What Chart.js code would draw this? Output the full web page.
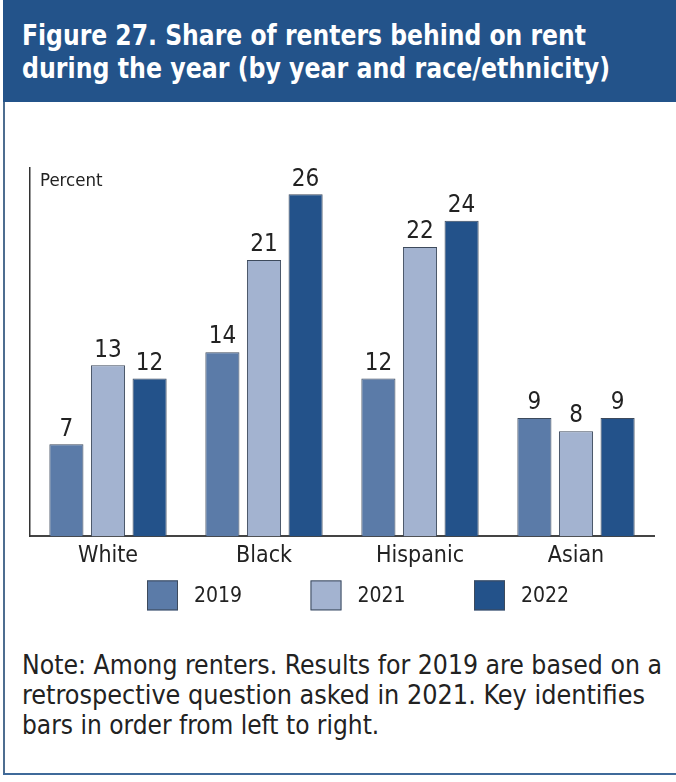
<!DOCTYPE html>
<html>
<head>
<meta charset="utf-8">
<script src="https://cdn.jsdelivr.net/npm/chart.js@4.4.1/dist/chart.umd.min.js"></script>
<style>
  html, body { margin: 0; padding: 0; background: #fff; }
  body { width: 676px; height: 782px; position: relative; overflow: hidden;
         font-family: "DejaVu Sans Condensed", "Liberation Sans Narrow", sans-serif; color: #222; }
  #header { position: absolute; left: 3px; top: 0; width: 673px; height: 102px; background: #23538a; }
  #title { position: absolute; left: 19px; top: 19px; margin: 0; color: #fff;
           font-size: 28px; font-weight: bold; line-height: 33px; white-space: nowrap; }
  #title span { display: block; transform-origin: 0 0; }
  #frameLeft { position: absolute; left: 3px; top: 102px; width: 2px; height: 673px; background: #4d6d90; }
  #frameBottom { position: absolute; left: 3px; top: 773px; width: 673px; height: 2px; background: #3f6a9a; }
  #wrap { position: absolute; left: 0; top: 110px; width: 676px; height: 515px; }
  #note { position: absolute; left: 22px; top: 650px; margin: 0; font-size: 26px; line-height: 30px;
          color: #222; white-space: nowrap; }
  #note span { display: block; transform-origin: 0 0; }
</style>
</head>
<body>
<div id="header"><h1 id="title"><span data-w="564">Figure 27. Share of renters behind on rent</span><span data-w="588">during the year (by year and race/ethnicity)</span></h1></div>
<div id="frameLeft"></div>
<div id="frameBottom"></div>
<div id="wrap"><canvas id="rentChart"></canvas></div>
<p id="note"><span data-w="640">Note: Among renters. Results for 2019 are based on a</span><span data-w="623">retrospective question asked in 2021. Key identifies</span><span>bars in order from left to right.</span></p>

<script>
const groups = ["White", "Black", "Hispanic", "Asian"];
const years = ["2019", "2021", "2022"];
const values2019 = [7, 14, 12, 9];
const values2021 = [13, 21, 22, 8];
const values2022 = [12, 26, 24, 9];
const colors = ["#5b7ba8", "#a3b3d0", "#23528a"];

const fontFamily = '"DejaVu Sans Condensed", "Liberation Sans Narrow", sans-serif';

// squeeze title / note lines to the width they have in the figure
document.querySelectorAll("[data-w]").forEach(el => {
    el.style.display = "inline-block";
    const real = el.getBoundingClientRect().width;
    el.style.transform = "scaleX(" + (+el.dataset.w / real) + ")";
    el.style.display = "block";
    el.style.width = real + "px";
});

// value labels above each bar
const barLabels = {
    id: "barLabels",
    afterDatasetsDraw(chart) {
        const ctx = chart.ctx;
        ctx.save();
        ctx.font = "24px " + fontFamily;
        ctx.fillStyle = "#222";
        ctx.textAlign = "center";
        ctx.textBaseline = "bottom";
        chart.data.datasets.forEach((ds, i) => {
            chart.getDatasetMeta(i).data.forEach((bar, j) => {
                ctx.fillText(ds.data[j], bar.x, bar.y - 3);
            });
        });
        ctx.restore();
    }
};

// "Percent" label and the key under the axis
const extras = {
    id: "extras",
    afterDraw(chart) {
        const ctx = chart.ctx;
        const area = chart.chartArea;
        ctx.save();
        ctx.font = "18.5px " + fontFamily;
        ctx.fillStyle = "#222";
        ctx.textBaseline = "top";
        ctx.fillText("Percent", area.left + 10, area.top + 4);

        ctx.font = "21px " + fontFamily;
        ctx.textBaseline = "middle";
        chart.data.datasets.forEach((ds, i) => {
            const x = 147 + i * 163.5;
            const y = area.bottom + 44;
            ctx.fillStyle = ds.backgroundColor;
            ctx.fillRect(x, y, 31, 30);
            ctx.strokeStyle = "#3d4a5c";
            ctx.lineWidth = 1;
            ctx.strokeRect(x + 0.5, y + 0.5, 30, 29);
            ctx.fillStyle = "#222";
            ctx.fillText(ds.label, x + 47, y + 16);
        });
        ctx.restore();
    }
};

new Chart(document.getElementById("rentChart"), {
    type: "bar",
    data: {
        labels: groups,
        datasets: [
            { label: years[0], data: values2019, backgroundColor: colors[0] },
            { label: years[1], data: values2021, backgroundColor: colors[1] },
            { label: years[2], data: values2022, backgroundColor: colors[2] }
        ].map(d => Object.assign(d, { borderColor: "#3d4a5c", borderWidth: 1 }))
    },
    options: {
        responsive: true,
        maintainAspectRatio: false,
        animation: false,
        categoryPercentage: 0.8,
        barPercentage: 0.82,
        layout: { padding: { left: 30, right: 22, top: 58, bottom: 49 } },
        scales: {
            x: {
                grid: { display: false, drawTicks: false },
                border: { display: true, color: "#444", width: 2 },
                ticks: { color: "#222", padding: 6, font: { family: fontFamily, size: 23 } }
            },
            y: {
                min: 0,
                max: 28,
                grid: { display: false, drawTicks: false },
                border: { display: true, color: "#333", width: 1.5 },
                ticks: { display: false }
            }
        },
        plugins: {
            legend: { display: false },
            tooltip: { enabled: false }
        }
    },
    plugins: [barLabels, extras]
});
</script>
</body>
</html>
